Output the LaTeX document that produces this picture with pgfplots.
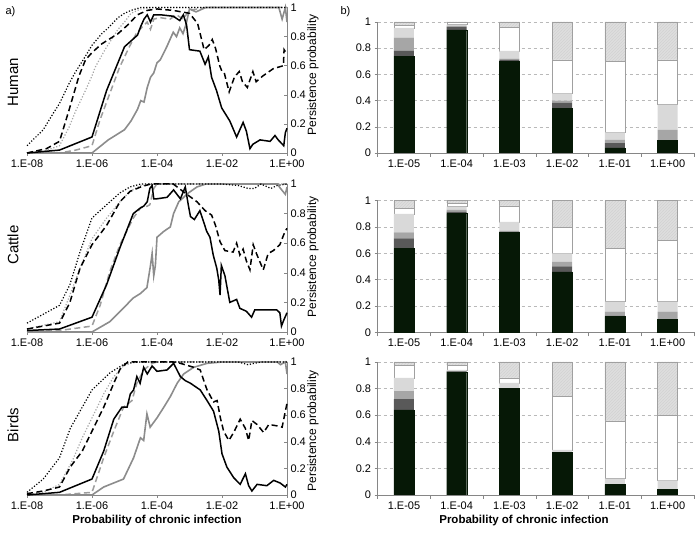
\documentclass[border=0pt]{standalone}
\usepackage{pgfplots}
\pgfplotsset{compat=1.18}
\usepackage{fontspec}
\setmainfont{Liberation Sans}
\usetikzlibrary{patterns}
\definecolor{dkgreen}{HTML}{061806}
\definecolor{dgray}{HTML}{595959}
\definecolor{mgray}{HTML}{A6A6A6}
\definecolor{lgray}{HTML}{D9D9D9}
\definecolor{bordergray}{HTML}{A0A0A0}
\definecolor{marble}{HTML}{DEDEDE}
\definecolor{axgray}{HTML}{868686}
\definecolor{lineg}{HTML}{8C8C8C}
\pgfplotsset{
  leftax/.style={scale only axis, width=260pt, xmin=-8, xmax=0, ymin=0, ymax=1,
    axis x line=bottom, axis y line=right, axis line style={-, axgray, thin},
    xtick={-8,-6,-4,-2,0}, xticklabels={1.E-08,1.E-06,1.E-04,1.E-02,1.E+00},
    ytick={0,0.2,0.4,0.6,0.8,1}, tick style={axgray, thin}, xtick align=outside, ytick align=inside,
    major tick length=3pt,
    ticklabel style={font=\fontsize{11}{13}\selectfont},
    /pgf/number format/assume math mode=true,
    clip=false, no marks},
  barax/.style={scale only axis, width=316.4pt, ybar stacked, bar width=20pt,
    xmin=-0.5, xmax=5.5, ymin=0, ymax=1,
    axis x line=bottom, axis y line=left, axis line style={-, axgray, thin},
    xtick={0,...,5}, xticklabels={1.E-05,1.E-04,1.E-03,1.E-02,1.E-01,1.E+00},
    major x tick style={draw=none},
    minor xtick={-0.5,0.5,1.5,2.5,3.5,4.5,5.5},
    ytick={0,0.2,0.4,0.6,0.8,1},
    ymajorgrids, grid style={dashed, gray!55},
    tick style={axgray, thin}, tick align=outside, major tick length=3pt, minor tick length=4pt,
    ticklabel style={font=\fontsize{11}{13}\selectfont},
    /pgf/number format/assume math mode=true},
  kdot/.style={black, line width=1.2pt, dash pattern=on 1.2pt off 1.8pt},
  gdot/.style={gray!70, line width=1.2pt, dash pattern=on 1.2pt off 1.8pt},
  kdash/.style={black, line width=1.5pt, dash pattern=on 6pt off 3.5pt},
  gdash/.style={lineg!85, line width=1.5pt, dash pattern=on 6pt off 3.5pt},
  ksol/.style={black, line width=1.5pt},
  gsol/.style={lineg, line width=1.6pt},
  Ldark/.style={fill=dkgreen, draw=dkgreen},
  Ldg/.style={fill=dgray, draw=none},
  Lmg/.style={fill=mgray, draw=none},
  Llg/.style={fill=lgray, draw=none},
  Lwh/.style={fill=white, draw=bordergray},
  Lmb/.style={fill=marble, draw=bordergray, postaction={pattern=north east lines, pattern color=gray!35}},
}
\begin{document}
\begin{tikzpicture}
\useasboundingbox (0,0) rectangle (697pt,535pt);
% ---------- left: Human
\begin{axis}[leftax, at={(27pt,382pt)}, anchor=south west, height=145.5pt]
\addplot[gdot] coordinates {(-8,0)(-7.5,0.01)(-7,0.05)(-6.7,0.18)(-6.5,0.29)(-6.2,0.43)(-6,0.53)(-5.9,0.59)(-5.6,0.71)(-5.2,0.85)(-5,0.9)(-4.8,0.96)(-4.5,0.99)(-4,1)(0,1)};
\addplot[gdash] coordinates {(-8,0)(-7,0)(-6.5,0.02)(-6,0.05)(-5.75,0.23)(-5.45,0.41)(-5.15,0.59)(-4.85,0.73)(-4.64,0.82)(-4.44,0.87)(-4.3,0.9)(-4.2,0.85)(-4.1,0.92)(-3.9,0.93)(-3.6,0.92)(-3.4,0.95)(-3.2,0.92)(-3,0.98)(-2.5,1)(0,1)};
\addplot[gsol] coordinates {(-8,0)(-7,0)(-6,0)(-5.5,0.09)(-5,0.16)(-4.8,0.22)(-4.6,0.3)(-4.5,0.36)(-4.4,0.35)(-4.3,0.45)(-4.2,0.52)(-4.1,0.55)(-4,0.62)(-3.9,0.64)(-3.7,0.73)(-3.5,0.83)(-3.4,0.8)(-3.3,0.86)(-3.2,0.82)(-3.1,0.89)(-3,0.99)(-2.8,0.97)(-2.5,1)(-0.25,1)(-0.15,0.92)(-0.05,1)(0,0.9)};
\addplot[kdot] coordinates {(-8,0.05)(-7.5,0.16)(-7.2,0.27)(-7,0.34)(-6.7,0.48)(-6.5,0.56)(-6.3,0.63)(-6,0.74)(-5.7,0.82)(-5.5,0.86)(-5.2,0.93)(-5,0.96)(-4.8,0.98)(-4.5,1)(-4,1)(-3,1)(-2,1)(-1,1)(0,1)};
\addplot[kdash] coordinates {(-8,0)(-7.4,0.03)(-7,0.08)(-6.7,0.3)(-6.4,0.53)(-6.2,0.64)(-6,0.69)(-5.7,0.75)(-5.2,0.82)(-4.9,0.88)(-4.6,0.95)(-4.3,0.98)(-4,0.99)(-3.5,0.98)(-3,0.96)(-2.75,0.89)(-2.65,0.8)(-2.55,0.71)(-2.4,0.74)(-2.3,0.78)(-2.2,0.72)(-2.07,0.6)(-2,0.56)(-1.93,0.55)(-1.78,0.42)(-1.62,0.52)(-1.47,0.56)(-1.37,0.49)(-1.22,0.45)(-1.05,0.56)(-0.95,0.49)(-0.74,0.53)(-0.42,0.58)(-0.11,0.6)(-0.09,0.71)(0,0.68)};
\addplot[ksol] coordinates {(-8,0)(-7,0.02)(-6,0.11)(-5.55,0.43)(-5,0.73)(-4.6,0.81)(-4.5,0.87)(-4.4,0.92)(-4.3,0.95)(-4.2,0.9)(-4.1,0.95)(-3.9,0.95)(-3.5,0.94)(-3.3,0.91)(-3.19,0.95)(-3.09,0.88)(-3.0,0.71)(-2.68,0.70)(-2.52,0.61)(-2.42,0.66)(-2.32,0.52)(-2.17,0.43)(-2.01,0.31)(-1.76,0.22)(-1.55,0.11)(-1.35,0.21)(-1.25,0.15)(-1.14,0.03)(-1.05,0.06)(-0.83,0.09)(-0.52,0.08)(-0.37,0.12)(-0.27,0.09)(-0.1,0.05)(-0.05,0.14)(0,0.17)};
\end{axis}
% ---------- left: Cattle
\begin{axis}[leftax, at={(27pt,203pt)}, anchor=south west, height=148pt]
\addplot[gdot] coordinates {(-8,0.02)(-7,0.07)(-6.68,0.25)(-6.37,0.43)(-6,0.63)(-5.55,0.77)(-5.14,0.88)(-4.83,0.95)(-4.5,0.99)(-4,1)(0,1)};
\addplot[gdash] coordinates {(-8,0)(-7,0.01)(-6,0.04)(-5.75,0.18)(-5.45,0.41)(-5.14,0.59)(-4.73,0.77)(-4.5,0.84)(-4.3,0.85)(-4.22,0.86)(-4.1,0.97)(-4,1)(0,1)};
\addplot[gsol] coordinates {(-8,0)(-6,0)(-5.45,0.07)(-5.04,0.16)(-4.73,0.23)(-4.51,0.26)(-4.31,0.3)(-4.2,0.45)(-4.15,0.53)(-4.1,0.38)(-4.05,0.45)(-4,0.64)(-3.79,0.68)(-3.59,0.71)(-3.49,0.8)(-3.33,0.88)(-3.18,0.91)(-3.03,0.94)(-2.77,0.98)(-2.5,1)(-0.3,1)(-0.2,0.97)(-0.05,0.93)(0,0.98)};
\addplot[kdot] coordinates {(-8,0.06)(-7.5,0.12)(-7,0.18)(-6.68,0.32)(-6.37,0.54)(-6,0.77)(-5.55,0.86)(-5.14,0.94)(-4.83,0.98)(-4.5,1)(-2,1)(-1.5,0.99)(-1.2,0.97)(-1,0.97)(-0.8,1)(-0.5,0.97)(-0.3,0.99)(0,1)};
\addplot[kdash] coordinates {(-8,0.02)(-7,0.06)(-6.68,0.2)(-6.37,0.43)(-6,0.59)(-5.55,0.72)(-5.14,0.88)(-4.83,0.95)(-4.5,0.98)(-4.2,1)(-3.5,1)(-3.08,0.93)(-2.77,0.88)(-2.52,0.82)(-2.32,0.79)(-2.2,0.72)(-2.06,0.61)(-1.91,0.55)(-1.66,0.54)(-1.55,0.6)(-1.45,0.52)(-1.35,0.56)(-1.25,0.48)(-1.14,0.42)(-1.04,0.59)(-0.94,0.53)(-0.73,0.42)(-0.58,0.53)(-0.42,0.55)(-0.22,0.59)(-0.06,0.68)(0,0.7)};
\addplot[ksol] coordinates {(-8,0.01)(-7,0.02)(-6,0.1)(-5.55,0.32)(-5.14,0.57)(-4.73,0.8)(-4.5,0.84)(-4.41,0.85)(-4.3,0.88)(-4.22,0.97)(-4.15,0.99)(-4.1,0.9)(-4,0.9)(-3.69,0.91)(-3.49,0.96)(-3.28,0.9)(-3.13,0.98)(-3.03,0.85)(-2.97,0.78)(-2.85,0.76)(-2.68,0.82)(-2.47,0.68)(-2.37,0.64)(-2.27,0.52)(-2.16,0.43)(-2.1,0.35)(-2.06,0.25)(-2.02,0.45)(-1.91,0.38)(-1.76,0.2)(-1.55,0.22)(-1.45,0.16)(-1.25,0.14)(-1.09,0.1)(-0.99,0.15)(-0.63,0.15)(-0.32,0.15)(-0.22,0.13)(-0.17,0.04)(-0.1,0.08)(0,0.13)};
\end{axis}
% ---------- left: Birds
\begin{axis}[leftax, at={(27pt,40pt)}, anchor=south west, height=133pt]
\addplot[gdot] coordinates {(-8,0)(-7.5,0.02)(-7,0.08)(-6.6,0.26)(-6.3,0.43)(-6,0.58)(-5.64,0.76)(-5.33,0.89)(-5.03,0.97)(-4.7,1)(0,1)};
\addplot[gdash] coordinates {(-8,0)(-7,0)(-6,0.02)(-5.64,0.28)(-5.33,0.48)(-5.03,0.66)(-4.77,0.71)(-4.62,0.84)(-4.41,0.94)(-4.15,0.99)(-4,1)(0,1)};
\addplot[gsol] coordinates {(-8,0)(-6,0)(-5.64,0.06)(-5.03,0.12)(-4.72,0.28)(-4.51,0.43)(-4.41,0.41)(-4.31,0.61)(-4.21,0.51)(-4,0.58)(-3.79,0.66)(-3.59,0.74)(-3.38,0.84)(-3.18,0.91)(-2.87,0.96)(-2.46,0.99)(-2,1)(-0.3,1)(-0.2,0.98)(-0.05,1)(0,0.91)};
\addplot[kdot] coordinates {(-8,0.02)(-7.5,0.12)(-7,0.28)(-6.67,0.5)(-6.3,0.66)(-6,0.79)(-5.44,0.92)(-4.97,0.99)(-4.5,1)(-1.5,1)(-1.2,0.98)(-1,0.99)(-0.8,1)(0,1)};
\addplot[kdash] coordinates {(-8,0.01)(-7.5,0.03)(-7,0.06)(-6.67,0.21)(-6.3,0.33)(-6,0.48)(-5.64,0.66)(-5.33,0.84)(-5.13,0.95)(-4.9,1)(-3.5,1)(-3.28,0.99)(-2.87,0.96)(-2.67,0.94)(-2.56,0.86)(-2.46,0.79)(-2.26,0.7)(-2.15,0.71)(-2.05,0.58)(-1.95,0.48)(-1.79,0.41)(-1.64,0.47)(-1.44,0.57)(-1.28,0.5)(-1.18,0.41)(-1.08,0.56)(-0.92,0.53)(-0.72,0.47)(-0.56,0.53)(-0.31,0.52)(-0.15,0.51)(0,0.69)};
\addplot[ksol] coordinates {(-8,0)(-7,0.02)(-6,0.12)(-5.64,0.33)(-5.33,0.57)(-5.08,0.66)(-4.92,0.66)(-4.82,0.76)(-4.72,0.79)(-4.62,0.89)(-4.52,0.84)(-4.41,0.96)(-4.3,0.91)(-4.15,0.97)(-4,0.93)(-3.69,0.94)(-3.49,0.99)(-3.28,0.89)(-3.13,0.86)(-2.97,0.84)(-2.67,0.79)(-2.46,0.71)(-2.26,0.63)(-2.1,0.48)(-2,0.31)(-1.85,0.21)(-1.64,0.13)(-1.44,0.08)(-1.28,0.16)(-1.18,0.07)(-1.08,0.03)(-0.92,0.08)(-0.62,0.07)(-0.41,0.11)(-0.21,0.09)(-0.05,0.06)(0,0.08)};
\end{axis}
% ---------- right: Human
\begin{axis}[barax, at={(377.6pt,382pt)}, anchor=south west, height=131pt]
\addplot[Ldark] coordinates {(0,0.74)(1,0.94)(2,0.70)(3,0.34)(4,0.04)(5,0.096)};
\addplot[Ldg] coordinates {(0,0.04)(1,0.02)(2,0.01)(3,0.045)(4,0.036)(5,0)};
\addplot[Lmg] coordinates {(0,0.10)(1,0.01)(2,0.01)(3,0.015)(4,0.024)(5,0.081)};
\addplot[Llg] coordinates {(0,0.075)(1,0.01)(2,0.06)(3,0.055)(4,0.057)(5,0.193)};
\addplot[Lwh] coordinates {(0,0.02)(1,0.015)(2,0.18)(3,0.255)(4,0.543)(5,0.34)};
\addplot[Lmb] coordinates {(0,0.025)(1,0.005)(2,0.04)(3,0.29)(4,0.30)(5,0.29)};
\end{axis}
% ---------- right: Cattle
\begin{axis}[barax, at={(377.6pt,202.7pt)}, anchor=south west, height=131.6pt]
\addplot[Ldark] coordinates {(0,0.638)(1,0.904)(2,0.76)(3,0.46)(4,0.12)(5,0.10)};
\addplot[Ldg] coordinates {(0,0.076)(1,0.012)(2,0.005)(3,0.04)(4,0.005)(5,0)};
\addplot[Lmg] coordinates {(0,0.046)(1,0.014)(2,0.005)(3,0.035)(4,0.032)(5,0.057)};
\addplot[Llg] coordinates {(0,0.14)(1,0.025)(2,0.07)(3,0.065)(4,0.076)(5,0.076)};
\addplot[Lwh] coordinates {(0,0.04)(1,0.025)(2,0.12)(3,0.20)(4,0.405)(5,0.467)};
\addplot[Lmb] coordinates {(0,0.06)(1,0.02)(2,0.04)(3,0.20)(4,0.362)(5,0.30)};
\end{axis}
% ---------- right: Birds
\begin{axis}[barax, at={(377.6pt,40pt)}, anchor=south west, height=133pt]
\addplot[Ldark] coordinates {(0,0.64)(1,0.925)(2,0.80)(3,0.32)(4,0.08)(5,0.04)};
\addplot[Ldg] coordinates {(0,0.08)(1,0.005)(2,0)(3,0)(4,0)(5,0)};
\addplot[Lmg] coordinates {(0,0.06)(1,0)(2,0)(3,0)(4,0)(5,0)};
\addplot[Llg] coordinates {(0,0.10)(1,0.01)(2,0.043)(3,0.02)(4,0.044)(5,0.07)};
\addplot[Lwh] coordinates {(0,0.095)(1,0.035)(2,0.037)(3,0.40)(4,0.434)(5,0.49)};
\addplot[Lmb] coordinates {(0,0.025)(1,0.025)(2,0.12)(3,0.26)(4,0.442)(5,0.40)};
\end{axis}
% ---------- text
\node[anchor=west, font=\fontsize{11}{13}\selectfont] at (2pt,523pt) {a)};
\node[anchor=west, font=\fontsize{11}{13}\selectfont] at (337pt,523pt) {b)};
\node[rotate=90, font=\fontsize{15}{17}\selectfont] at (13pt,453pt) {Human};
\node[rotate=90, font=\fontsize{15}{17}\selectfont] at (13pt,290pt) {Cattle};
\node[rotate=90, font=\fontsize{15}{17}\selectfont] at (13pt,110pt) {Birds};
\node[rotate=90, font=\fontsize{12}{14}\selectfont] at (313pt,460pt) {Persistence probability};
\node[rotate=90, font=\fontsize{12}{14}\selectfont] at (313pt,278pt) {Persistence probability};
\node[rotate=90, font=\fontsize{12}{14}\selectfont] at (313pt,104pt) {Persistence probability};
\node[font=\bfseries\fontsize{11.5}{13}\selectfont] at (157pt,14pt) {Probability of chronic infection};
\node[font=\bfseries\fontsize{11.5}{13}\selectfont] at (524pt,14pt) {Probability of chronic infection};
\end{tikzpicture}
\end{document}
